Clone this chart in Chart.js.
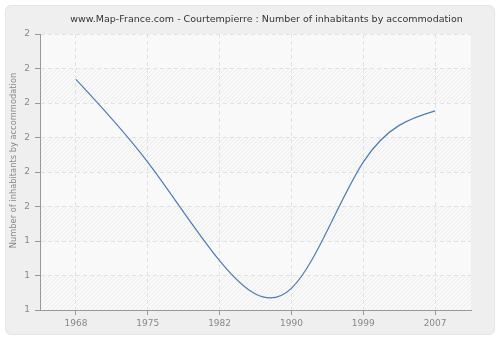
<!DOCTYPE html>
<html>
<head>
<meta charset="utf-8">
<script src="https://cdn.jsdelivr.net/npm/chart.js@4"></script>
<style>
    body {margin: 0; background: #ffffff;}
    #wrap {position: relative; width: 500px; height: 340px;}
    #panel {position: absolute; left: 5px; top: 5px; width: 488px; height: 328px; background: #efefef; border: 1px solid #e4e4e4; border-radius: 6px;}
    #chart {position: absolute; left: 0; top: 0;}
</style>
</head>
<body>
<div id="wrap">
    <div id="panel"></div>
    <canvas id="chart" width="500" height="340"></canvas>
</div>
<script>
var years = ["1968", "1975", "1982", "1990", "1999", "2007"]
var inhabitantsByAccommodation = [2.17, 1.75, 1.25, 1.11, 1.75, 2.01]
var yTickValues = [1, 1.175, 1.35, 1.525, 1.7, 1.875, 2.05, 2.225, 2.4]
var yTickLabels = ["1", "1", "1", "2", "2", "2", "2", "2", "2"]
var chartTitle = "www.Map-France.com - Courtempierre : Number of inhabitants by accommodation"
var yAxisTitle = "Number of inhabitants by accommodation"

var fontFamily = "'DejaVu Sans', Verdana, sans-serif"

// hatched plot background with alternating bands + titles
var plotBackground = {
    id: "plotBackground",
    beforeDraw: function(chart){
        var ctx = chart.ctx
        var a = chart.chartArea
        var y = chart.scales.y
        ctx.save()
        ctx.fillStyle = "#f9f9f9"
        ctx.fillRect(a.left, a.top, a.right - a.left, a.bottom - a.top)
        ctx.beginPath()
        ctx.rect(a.left, a.top, a.right - a.left, a.bottom - a.top)
        ctx.clip()
        ctx.strokeStyle = "#ececec"
        ctx.lineWidth = 1
        ctx.beginPath()
        for(var i = -400; i < 500; i += 4){
            ctx.moveTo(a.left + i, a.bottom)
            ctx.lineTo(a.left + i + (a.bottom - a.top), a.top)
        }
        ctx.stroke()
        ctx.fillStyle = "rgba(250,250,250,0.75)"
        for(var j = 0; j < yTickValues.length - 1; j++){
            if(j % 2 == 1){
                var y1 = y.getPixelForValue(yTickValues[j])
                var y2 = y.getPixelForValue(yTickValues[j + 1])
                ctx.fillRect(a.left, y2, a.right - a.left, y1 - y2)
            }
        }
        ctx.restore()
    },
    afterDraw: function(chart){
        var ctx = chart.ctx
        ctx.save()
        ctx.font = "9.5px " + fontFamily
        ctx.fillStyle = "#333333"
        ctx.textAlign = "center"
        ctx.textBaseline = "alphabetic"
        ctx.fillText(chartTitle, 266.5, 22)
        ctx.translate(14, 160.5)
        ctx.rotate(-Math.PI / 2)
        ctx.font = "8.3px " + fontFamily
        ctx.fillStyle = "#888888"
        ctx.textBaseline = "middle"
        ctx.fillText(yAxisTitle, 0, 0)
        ctx.restore()
    }
}

// natural cubic spline through the points (smoother than catmull-rom tension)
var naturalSpline = {
    id: "naturalSpline",
    beforeDatasetsDraw: function(chart){
        var meta = chart.getDatasetMeta(0)
        var pts = meta.data
        var n = pts.length
        if(n < 3) return
        meta.dataset.updateControlPoints(chart.chartArea, "x")
        var h = [], m = [], a = [], b = [], c = [], r = []
        for(var i = 0; i < n - 1; i++){ h.push(pts[i + 1].x - pts[i].x) }
        // tridiagonal system for second derivatives, natural ends
        for(var i = 0; i < n; i++){
            if(i == 0 || i == n - 1){ a[i] = 0; b[i] = 1; c[i] = 0; r[i] = 0; continue }
            a[i] = h[i - 1]; b[i] = 2 * (h[i - 1] + h[i]); c[i] = h[i]
            r[i] = 6 * ((pts[i + 1].y - pts[i].y) / h[i] - (pts[i].y - pts[i - 1].y) / h[i - 1])
        }
        for(var i = 1; i < n; i++){
            var w = a[i] / b[i - 1]
            b[i] -= w * c[i - 1]
            r[i] -= w * r[i - 1]
        }
        m[n - 1] = r[n - 1] / b[n - 1]
        for(var i = n - 2; i >= 0; i--){ m[i] = (r[i] - c[i] * m[i + 1]) / b[i] }
        for(var i = 0; i < n - 1; i++){
            var p0 = pts[i], p1 = pts[i + 1], hh = h[i]
            var s = (p1.y - p0.y) / hh
            var d0 = s - hh * (2 * m[i] + m[i + 1]) / 6
            var d1 = s + hh * (m[i] + 2 * m[i + 1]) / 6
            p0.cp2x = p0.x + hh / 3; p0.cp2y = p0.y + d0 * hh / 3
            p1.cp1x = p1.x - hh / 3; p1.cp1y = p1.y - d1 * hh / 3
        }
    }
}

new Chart(document.getElementById("chart"), {
    type: "line",
    data: {
        labels: years,
        datasets: [{
            data: inhabitantsByAccommodation,
            borderColor: "#4e7cb2",
            borderWidth: 1.2,
            pointRadius: 0,
            fill: false,
            tension: 0.4
        }]
    },
    options: {
        responsive: false,
        animation: false,
        layout: {padding: {top: 34, right: 29, bottom: 0, left: 0}},
        scales: {
            x: {
                offset: true,
                grid: {color: "#e2e2e2", tickColor: "#999999", tickLength: 5, offset: false, tickBorderDash: []},
                border: {color: "#999999", width: 1, dash: [4, 3]},
                ticks: {color: "#888888", padding: 3, font: {family: fontFamily, size: 9}},
                afterFit: function(scale){ scale.height = 30 }
            },
            y: {
                min: 1,
                max: 2.4,
                afterBuildTicks: function(scale){
                    scale.ticks = yTickValues.map(function(v){ return {value: v} })
                },
                grid: {color: "#e2e2e2", tickColor: "#999999", tickLength: 5, tickBorderDash: []},
                border: {color: "#999999", width: 1, dash: [4, 3]},
                ticks: {
                    color: "#888888", padding: 5, font: {family: fontFamily, size: 9},
                    callback: function(value, index){ return yTickLabels[index] }
                },
                afterFit: function(scale){ scale.width = 40 }
            }
        },
        plugins: {
            legend: {display: false},
            tooltip: {enabled: false},
            title: {display: false}
        }
    },
    plugins: [plotBackground, naturalSpline]
})
</script>
</body>
</html>
